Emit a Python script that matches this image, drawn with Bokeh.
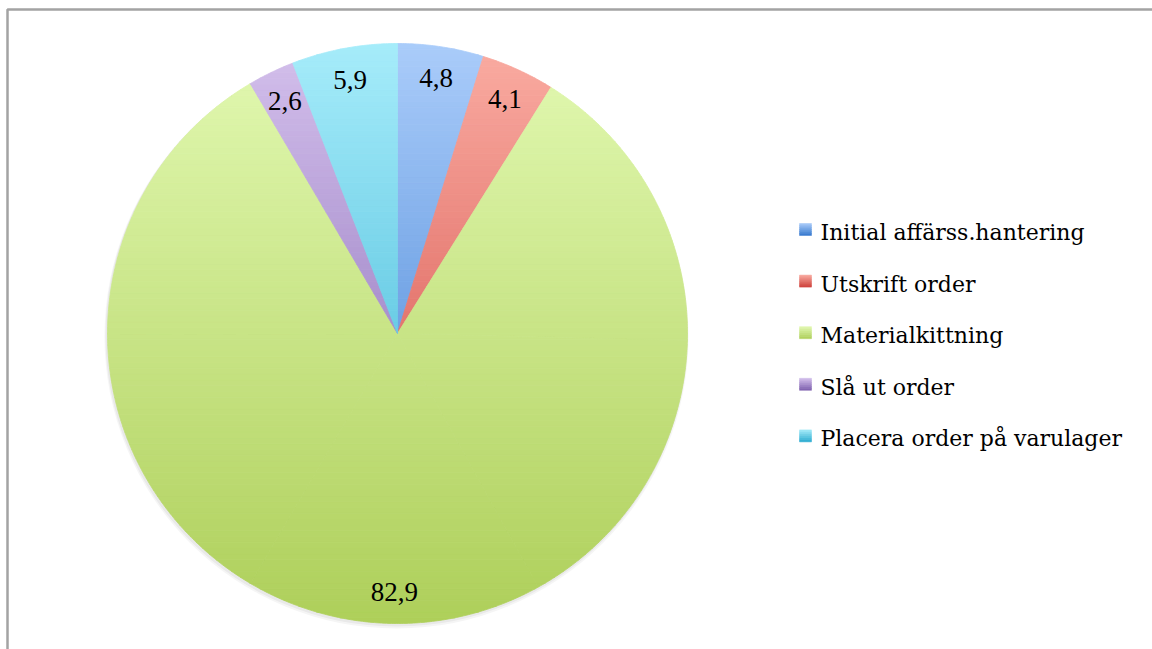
import math
from bokeh.plotting import figure
from bokeh.models import Range1d
from bokeh.core.properties import value
from bokeh.embed import file_html
from bokeh.resources import INLINE

# ---- data ----
categories = ["Initial affärss.hantering", "Utskrift order", "Materialkittning",
              "Slå ut order", "Placera order på varulager"]
values = [4.8, 4.1, 82.9, 2.6, 5.9]
labels = ["4,8", "4,1", "82,9", "2,6", "5,9"]
top_colors = [(170, 204, 250), (250, 172, 162), (226, 249, 178), (212, 192, 236), (166, 236, 250)]
bottom_colors = [(50, 118, 205), (205, 62, 56), (174, 207, 90), (122, 92, 172), (45, 172, 208)]

W, H = 1152, 649
CX, CY, R = 397, H - 333, 290
FONT = "Liberation Serif"
LEG_FONT = "DejaVu Serif"

p = figure(width=W, height=H, x_range=Range1d(0, W), y_range=Range1d(0, H),
           output_backend="svg", toolbar_location=None, min_border=0)
p.axis.visible = False
p.grid.visible = False
p.outline_line_color = None
p.background_fill_color = "white"

# frame
p.line([7, 7, W], [0, H - 9, H - 9], line_color="#a3a3a3", line_width=2.5)

# shadow
p.circle(x=[CX - 1], y=[CY - 3], radius=R + 2, fill_color="#808080", fill_alpha=0.08, line_color=None)
p.circle(x=[CX - 1], y=[CY - 2], radius=R + 1, fill_color="#808080", fill_alpha=0.10, line_color=None)


def clip(pts, y0, above):
    out = []
    n = len(pts)
    for i in range(n):
        cx_, cy_ = pts[i]
        px_, py_ = pts[i - 1]
        cin = cy_ >= y0 if above else cy_ <= y0
        pin = py_ >= y0 if above else py_ <= y0
        if cin:
            if not pin:
                t = (y0 - py_) / (cy_ - py_)
                out.append((px_ + t * (cx_ - px_), y0))
            out.append((cx_, cy_))
        elif pin:
            t = (y0 - py_) / (cy_ - py_)
            out.append((px_ + t * (cx_ - px_), y0))
    return out


def mix(c1, c2, t):
    return "#%02x%02x%02x" % tuple(int(round(a + (b - a) * t)) for a, b in zip(c1, c2))


total = sum(values)
NSTRIP = 100
xs_all, ys_all, cols_all = [], [], []
cum = 0.0
mids = []
for v, ct, cb in zip(values, top_colors, bottom_colors):
    a0 = cum / total * 2 * math.pi
    a1 = (cum + v) / total * 2 * math.pi
    mids.append((a0 + a1) / 2)
    cum += v
    # split into convex sub-wedges (<= 60 degrees)
    nsub = max(1, int(math.ceil((a1 - a0) / (math.pi / 3))))
    for j in range(nsub):
        b0 = a0 + (a1 - a0) * j / nsub
        b1 = a0 + (a1 - a0) * (j + 1) / nsub
        npts = max(4, int((b1 - b0) * 120))
        poly = [(CX, CY)]
        for k in range(npts + 1):
            a = b0 + (b1 - b0) * k / npts
            poly.append((CX + R * math.sin(a), CY + R * math.cos(a)))
        for s in range(NSTRIP):
            ylo = CY - R + 2 * R * s / NSTRIP
            yhi = CY - R + 2 * R * (s + 1) / NSTRIP
            q = clip(clip(poly, ylo, True), yhi, False)
            if len(q) < 3:
                continue
            t = 1 - ((ylo + yhi) / 2 - (CY - R)) / (2 * R)
            xs_all.append([pt[0] for pt in q])
            ys_all.append([pt[1] for pt in q])
            cols_all.append(mix(ct, cb, t))

p.patches(xs_all, ys_all, fill_color=cols_all, line_color=cols_all, line_width=0.8)

# data labels
lr = 0.89 * R
lx = [CX + lr * math.sin(m) for m in mids]
ly = [CY + lr * math.cos(m) for m in mids]
p.text(x=lx, y=ly, text=labels, text_font=value(FONT), text_font_size="27px",
       text_align="center", text_baseline="middle", text_color="black")

# legend
mid_y = H - 232
step = 51.6
sq = 12
sx0 = 799
for i, (ct, cb) in enumerate(zip(top_colors, bottom_colors)):
    yc = mid_y - i * step
    ytop = yc + 9
    nst = 6
    rx, ry, rc = [], [], []
    for s in range(nst):
        y1 = ytop - sq * s / nst
        y2 = ytop - sq * (s + 1) / nst
        rx.append([sx0, sx0 + sq, sx0 + sq, sx0])
        ry.append([y1, y1, y2, y2])
        rc.append(mix(ct, cb, (s + 0.5) / nst))
    p.patches(rx, ry, fill_color=rc, line_color=rc, line_width=0.5)

leg_y = [mid_y - i * step for i in range(len(categories))]
p.text(x=[820] * len(categories), y=leg_y, text=categories, text_font=value(LEG_FONT),
       text_font_size="22px", text_align="left", text_baseline="middle",
       text_color="black")

open("out.html", "w").write(file_html(p, INLINE))
